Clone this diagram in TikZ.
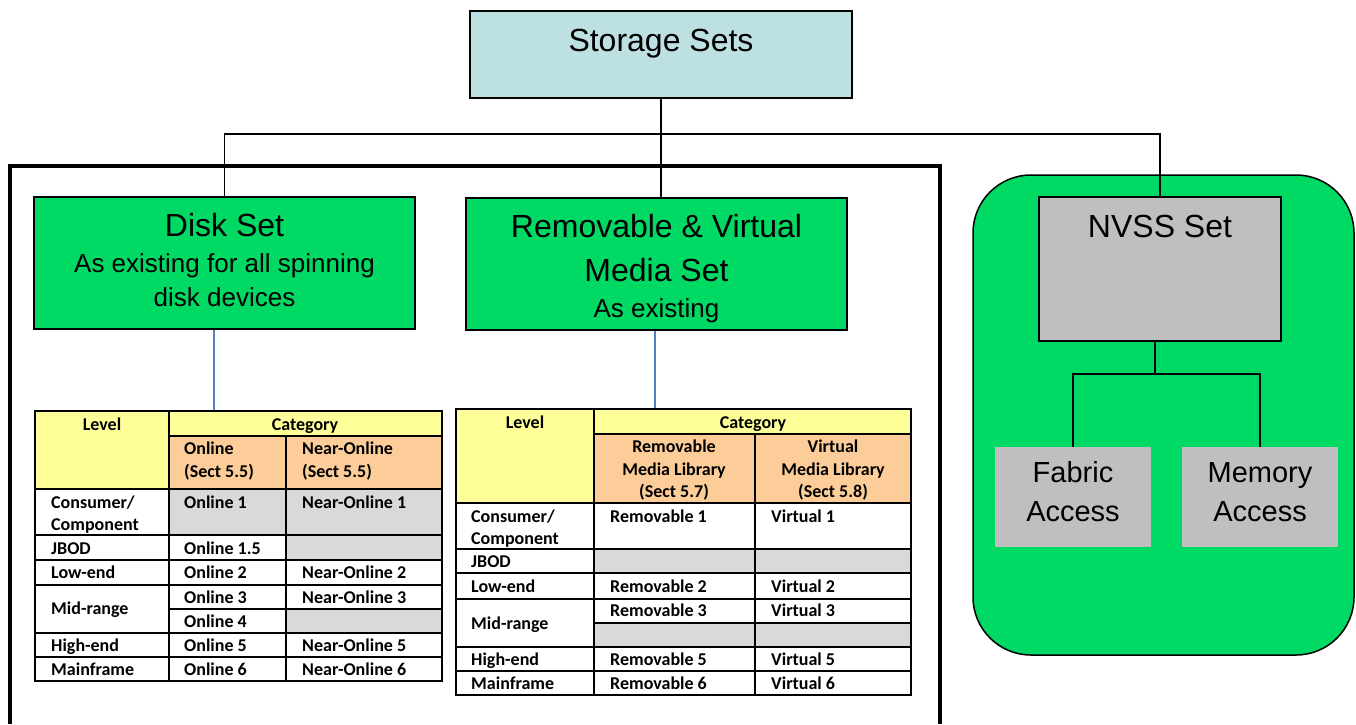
\documentclass[tikz,border=0pt]{standalone}
\usepackage{fontspec}
\setmainfont{Liberation Sans}
\newfontfamily\tabfont{Carlito}
\usepackage{xcolor}

\definecolor{storeblue}{RGB}{189,224,227}
\definecolor{setgreen}{RGB}{0,217,100}
\definecolor{nvgray}{RGB}{191,191,191}
\definecolor{cellgray}{RGB}{217,217,217}
\definecolor{hdyellow}{RGB}{255,255,153}
\definecolor{hdpeach}{RGB}{252,204,153}
\definecolor{linkblue}{RGB}{79,129,189}

\tikzset{
  setbox/.style={draw=black, line width=2pt, inner sep=0pt},
  titletxt/.style={anchor=base, inner sep=0pt, font=\fontsize{32}{38}\selectfont},
  subtxt/.style={anchor=base, inner sep=0pt, font=\fontsize{26}{31}\selectfont},
  wire/.style={draw=black, line width=1.8pt},
  link/.style={draw=linkblue, line width=1.5pt},
  grid/.style={draw=black, line width=2pt},
  cell/.style={anchor=base west, inner sep=0pt, font=\tabfont\bfseries\fontsize{18}{22}\selectfont},
  cellc/.style={cell, anchor=base}
}

\begin{document}
\begin{tikzpicture}[x=1pt, y=-1pt]
\useasboundingbox (0,0) rectangle (1356,724);

\fill[setgreen, draw=black, line width=1.5pt, rounded corners=58pt] (973,175) rectangle (1354,655); % nvss panel
\draw[line width=3.5pt] (10,724) -- (10,166) -- (940,166) -- (940,724); % existing sets frame

% boxes
\node[setbox, fill=storeblue, minimum width=382pt, minimum height=87pt] (storage) at (661,54.5) {};
\node[setbox, fill=setgreen, minimum width=381pt, minimum height=132pt] (disk) at (224.5,263) {};
\node[setbox, fill=setgreen, minimum width=381pt, minimum height=132pt] (rvm) at (656.5,264) {};
\node[setbox, fill=nvgray, minimum width=242pt, minimum height=144pt] (nvss) at (1160,269) {};
\node[fill=nvgray, minimum width=156pt, minimum height=100pt] (fabric) at (1073,497) {};
\node[fill=nvgray, minimum width=156pt, minimum height=100pt] (memory) at (1260,497) {};

% connectors
\coordinate (bus) at (661,134);
\coordinate (nvbus) at (1155,374);
\draw[wire] (storage.south) -- (storage.south |- rvm.north);
\draw[wire] (disk.north) |- (bus) -| (nvss.north);
\draw[wire] (nvbus |- nvss.south) -- (nvbus);
\draw[wire] (fabric.north) |- (nvbus) -| (memory.north);

% box texts
\node[titletxt] (storageT) at ([yshift=-41pt]storage.north) {Storage Sets};
\node[titletxt] (diskA) at ([yshift=-40pt]disk.north) {Disk Set};
\node[subtxt] (diskB) at ([yshift=-76pt]disk.north) {As existing for all spinning};
\node[subtxt] (diskC) at ([yshift=-110pt]disk.north) {disk devices};
\node[titletxt] (rvmA) at ([yshift=-40pt]rvm.north) {Removable \& Virtual};
\node[titletxt] (rvmB) at ([yshift=-84pt]rvm.north) {Media Set};
\node[subtxt] (rvmC) at ([yshift=-120pt]rvm.north) {As existing};
\node[titletxt] (nvssT) at ([yshift=-41pt]nvss.north) {NVSS Set};
\node[titletxt, font=\fontsize{29}{35}\selectfont] (fabricA) at ([yshift=-36pt]fabric.north) {Fabric};
\node[titletxt, font=\fontsize{29}{35}\selectfont] (fabricB) at ([yshift=-75pt]fabric.north) {Access};
\node[titletxt, font=\fontsize{29}{35}\selectfont] (memoryA) at ([yshift=-36pt]memory.north) {Memory};
\node[titletxt, font=\fontsize{29}{35}\selectfont] (memoryB) at ([yshift=-75pt]memory.north) {Access};

% links to the tables
\coordinate (tabA) at (214,411);
\coordinate (tabB) at (655,409);
\draw[link] (tabA |- disk.south) -- (tabA);
\draw[link] (tabB |- rvm.south) -- (tabB);

% disk table
\fill[hdyellow] (35,411) rectangle (169,489);
\fill[hdyellow] (169,411) rectangle (442,436);
\fill[hdpeach] (169,436) rectangle (442,489);
\foreach \xa/\ya/\xb/\yb in {169/489/442/535, 286/535/442/560, 286/609/442/633}
	\fill[cellgray] (\xa,\ya) rectangle (\xb,\yb);
\foreach \y in {489,535,560,585,633,657}
	\draw[grid] (35,\y) -- (442,\y);
\foreach \y in {436,609}
	\draw[grid] (169,\y) -- (442,\y);
\draw[grid] (169,411) -- (169,681);
\draw[grid] (286,436) -- (286,681);
\draw[grid] (35,411) rectangle (442,681);

\node[cellc] (daLevel) at (102,430) {Level};
\node[cellc] (daCat) at (305,430) {Category};
\foreach \x/\y/\t [count=\k] in {51/508/{Consumer/}, 51/530/{Component}, 51/554/{JBOD}, 51/578/{Low-end},
		51/614/{Mid-range}, 51/651/{High-end}, 51/675/{Mainframe},
		184/454/{Online}, 184/477/{(Sect 5.5)}, 302/454/{Near-Online}, 302/477/{(Sect 5.5)},
		184/508/{Online 1}, 184/554/{Online 1.5}, 184/578/{Online 2}, 184/603/{Online 3},
		184/627/{Online 4}, 184/651/{Online 5}, 184/675/{Online 6},
		302/508/{Near-Online 1}, 302/578/{Near-Online 2}, 302/603/{Near-Online 3},
		302/651/{Near-Online 5}, 302/675/{Near-Online 6}}
	\node[cell] (da\k) at (\x,\y) {\t};

% removable and virtual table
\fill[hdyellow] (456,409) rectangle (594,503);
\fill[hdyellow] (594,409) rectangle (911,434);
\fill[hdpeach] (594,434) rectangle (911,503);
\foreach \xa/\ya/\xb/\yb in {594/549/911/573, 594/623/911/647}
	\fill[cellgray] (\xa,\ya) rectangle (\xb,\yb);
\foreach \y in {503,549,573,599,647,671}
	\draw[grid] (456,\y) -- (911,\y);
\foreach \y in {434,623}
	\draw[grid] (594,\y) -- (911,\y);
\draw[grid] (594,409) -- (594,695);
\draw[grid] (755,434) -- (755,695);
\draw[grid] (456,409) rectangle (911,695);

\foreach \x/\y/\t [count=\k] in {525/428/{Level}, 753/428/{Category},
		674/452/{Removable}, 674/475/{Media Library}, 674/497/{(Sect 5.7)},
		833/452/{Virtual}, 833/475/{Media Library}, 833/497/{(Sect 5.8)}}
	\node[cellc] (rhd\k) at (\x,\y) {\t};
\foreach \x/\y/\t [count=\k] in {471/522/{Consumer/}, 471/544/{Component}, 471/567/{JBOD}, 471/592/{Low-end},
		471/629/{Mid-range}, 471/665/{High-end}, 471/689/{Mainframe},
		610/522/{Removable 1}, 610/592/{Removable 2}, 610/616/{Removable 3},
		610/665/{Removable 5}, 610/689/{Removable 6},
		771/522/{Virtual 1}, 771/592/{Virtual 2}, 771/616/{Virtual 3},
		771/665/{Virtual 5}, 771/689/{Virtual 6}}
	\node[cell] (rv\k) at (\x,\y) {\t};

\end{tikzpicture}
\end{document}
